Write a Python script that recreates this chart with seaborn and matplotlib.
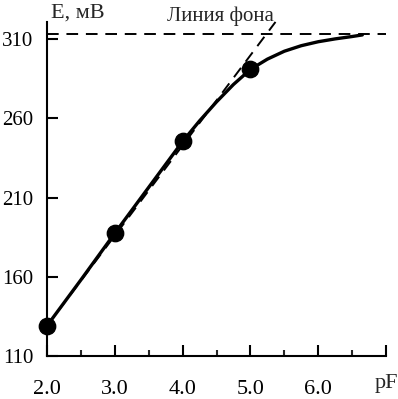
import matplotlib
matplotlib.use("Agg")
import matplotlib.pyplot as plt
import seaborn as sns
import pandas as pd
from matplotlib.ticker import MultipleLocator

sns.set_style("white")
plt.rcParams['font.family'] = ['Liberation Serif', 'DejaVu Serif']

# Data
pF_pts = [2.0, 3.0, 4.0, 5.0]
E_pts = [129, 187.5, 245.5, 291]
curve_pF = [2.0, 2.5, 3.0, 3.5, 4.0, 4.25, 4.5, 4.75, 5.0, 5.25, 5.5, 5.75, 6.0, 6.25, 6.5, 6.65]
curve_E = [129, 158, 187.5, 216.5, 245.5, 258.5, 270.5, 281.5, 291, 297.5, 302.5, 306, 308.5, 310.3, 311.8, 312.8]
tangent_pF = [2.0, 5.37]
tangent_E = [129, 321]
background_E = 313.5
background_pF = [2.0, 7.0]
x_ticks = [2.0, 3.0, 4.0, 5.0, 6.0, 7.0]
x_labels = ["2.0", "3.0", "4.0", "5.0", "6.0", ""]
y_ticks = [110, 160, 210, 260, 310]

fig = plt.figure(figsize=(3.98, 3.99), dpi=100)
ax = fig.add_axes([0.118, 0.108, 0.852, 0.837])

df_curve = pd.DataFrame({"pF": curve_pF, "E": curve_E})
df_pts = pd.DataFrame({"pF": pF_pts, "E": E_pts})
df_tan = pd.DataFrame({"pF": tangent_pF, "E": tangent_E})
df_bg = pd.DataFrame({"pF": background_pF, "E": [background_E] * 2})

sns.lineplot(data=df_bg, x="pF", y="E", ax=ax, color="black", lw=1.4,
             linestyle=(0, (6, 4)), clip_on=False)
sns.lineplot(data=df_tan, x="pF", y="E", ax=ax, color="black", lw=1.4,
             linestyle=(0, (6, 4)), clip_on=False)
sns.lineplot(data=df_curve, x="pF", y="E", ax=ax, color="black", lw=2.4, sort=False)
sns.scatterplot(data=df_pts, x="pF", y="E", ax=ax, color="black", s=140,
                edgecolor="black", zorder=5, clip_on=False)

ax.set_xlim(2.0, 7.0)
ax.set_ylim(110, 321)
ax.set_xticks(x_ticks)
ax.set_xticklabels(x_labels)
ax.xaxis.set_minor_locator(MultipleLocator(0.5))
ax.set_yticks(y_ticks)
ax.set_xlabel("")
ax.set_ylabel("")
for s in ["top", "right"]:
    ax.spines[s].set_visible(False)
for s in ["left", "bottom"]:
    ax.spines[s].set_color("black")
    ax.spines[s].set_linewidth(1.5)
ax.tick_params(axis="x", which="major", direction="in", length=8, width=1.5,
               pad=17, labelsize=16, colors="black", bottom=True)
ax.tick_params(axis="x", which="minor", direction="in", length=4, width=1.5, bottom=True)
ax.tick_params(axis="y", which="major", direction="in", length=8, width=1.5,
               pad=10, labelsize=15, colors="black", left=True)

fig.text(0.195, 0.968, "E, мВ", fontsize=16, ha="center", va="center")
fig.text(0.553, 0.96, "Линия фона", fontsize=15, ha="center", va="center")
fig.text(0.972, 0.04, "pF", fontsize=16, ha="center", va="center")

fig.savefig("out.png", dpi=100)
